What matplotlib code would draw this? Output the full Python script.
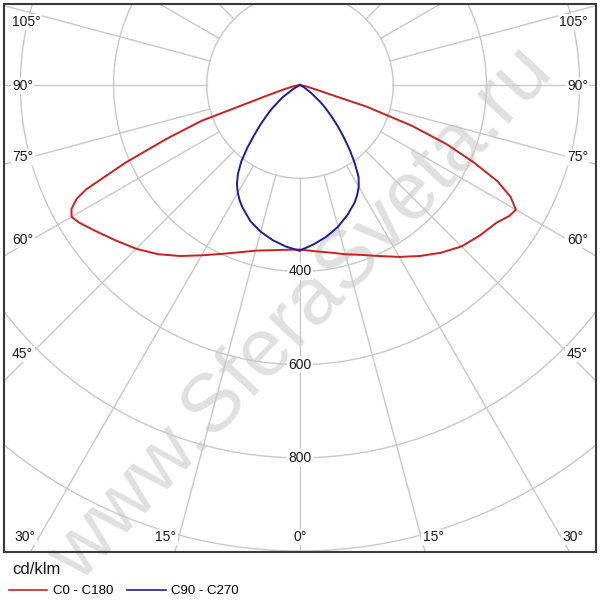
import numpy as np
import matplotlib
matplotlib.use("Agg")
import matplotlib.pyplot as plt
from matplotlib.lines import Line2D

plt.rcParams['font.family'] = ['Liberation Sans', 'DejaVu Sans']

# luminous intensity, cd/klm, vs gamma angle (deg from downward)
gamma_c0 = [0, 5, 10, 15, 20, 25, 30, 35, 40, 45, 50, 55, 58, 60, 62, 64, 66, 68, 70, 72, 72.5, 74, 77, 90]
i_c0 = [353, 358, 365, 376, 388, 405, 426, 448, 470, 490, 503, 515, 530, 535, 512, 472, 408, 340, 255, 150, 80, 40, 15, 0]

gamma_c180 = [0, 5, 10, 15, 20, 25, 30, 35, 40, 45, 50, 55, 58, 60, 61.5, 63, 64, 66, 68, 70, 71, 72, 75, 80, 90]
i_c180 = [353, 355, 360, 368, 382, 400, 422, 448, 474, 497, 518, 542, 558, 566, 558, 538, 510, 410, 310, 225, 115, 80, 35, 12, 0]

gamma_c90 = [0, 5, 10, 15, 20, 25, 27.5, 30, 32.5, 35, 37.5, 40, 42.5, 45, 47.5, 50, 55, 60, 90]
i_c90 = [355, 343, 330, 315, 297, 278, 266, 252, 234, 205, 175, 146, 120, 96, 76, 58, 28, 10, 0]

gamma_c270 = [0, 5, 10, 15, 20, 25, 27.5, 30, 32.5, 35, 37.5, 40, 42.5, 45, 47.5, 50, 55, 60, 90]
i_c270 = [356, 348, 338, 326, 311, 291, 280, 267, 252, 232, 207, 176, 145, 120, 97, 78, 45, 15, 0]

rings = [200, 400, 600, 800, 1000]
ring_labels = [400, 600, 800]
spoke_step = 15
side_labels = [105, 90, 75, 60, 45]
bottom_labels = [30, 15, 0, 15, 30]

# layout (pixels on a 600x600 canvas)
px_per_unit = 0.466
cx, cy = 300, 85
box = (4, 4, 596, 552)  # left, top, right, bottom
side_label_y = [22, 86, 157, 240, 354]
bottom_label_x = [25, 166, 300, 433, 573]
bottom_label_y = 537

red = '#cc2020'
blue = '#1c1c9e'
grid_c = '#c9c9c9'
txt_c = '#1a1a1a'


def to_xy(gamma, inten, side):
    g = np.radians(np.asarray(gamma, float))
    r = np.asarray(inten, float)
    return side * r * np.sin(g), -r * np.cos(g)


def curve(g_right, i_right, g_left, i_left):
    xr, yr = to_xy(g_right, i_right, 1)
    xl, yl = to_xy(g_left, i_left, -1)
    return np.r_[xl[::-1], xr], np.r_[yl[::-1], yr]


fig = plt.figure(figsize=(6, 6), dpi=100)
l, t, r, b = box
ax = fig.add_axes([l / 600, 1 - b / 600, (r - l) / 600, (b - t) / 600])
ax.set_facecolor('none')
ax.set_xlim((l - cx) / px_per_unit, (r - cx) / px_per_unit)
ax.set_ylim((cy - b) / px_per_unit, (cy - t) / px_per_unit)
ax.set_xticks([])
ax.set_yticks([])
for s in ax.spines.values():
    s.set_color('#3a3a3a')
    s.set_linewidth(1.5)

th = np.linspace(0, 2 * np.pi, 721)
for rr in rings:
    ax.plot(rr * np.cos(th), rr * np.sin(th), color=grid_c, lw=1.0, zorder=1)
for a in range(0, 360, spoke_step):
    ar = np.radians(a)
    ax.plot([rings[0] * np.sin(ar), 1400 * np.sin(ar)],
            [-rings[0] * np.cos(ar), -1400 * np.cos(ar)],
            color=grid_c, lw=1.0, zorder=1)

x, y = curve(gamma_c0, i_c0, gamma_c180, i_c180)
ax.plot(x, y, color=red, lw=1.4, zorder=4, solid_joinstyle='round')
x, y = curve(gamma_c90, i_c90, gamma_c270, i_c270)
ax.plot(x, y, color=blue, lw=1.4, zorder=4, solid_joinstyle='round')

wbox = dict(facecolor='white', edgecolor='none', pad=1.0)
for v in ring_labels:
    ax.text(0, -v, str(v), ha='center', va='center', fontsize=10,
            color=txt_c, bbox=wbox, zorder=3)

for lab, py in zip(side_labels, side_label_y):
    fig.text(12 / 600, 1 - py / 600, f'{lab}°', ha='left', va='center',
             fontsize=10, color=txt_c, bbox=wbox, zorder=5)
    fig.text(588 / 600, 1 - py / 600, f'{lab}°', ha='right', va='center',
             fontsize=10, color=txt_c, bbox=wbox, zorder=5)
for lab, px in zip(bottom_labels, bottom_label_x):
    fig.text(px / 600, 1 - bottom_label_y / 600, f'{lab}°', ha='center', va='center',
             fontsize=10, color=txt_c, bbox=wbox, zorder=5)

fig.text(12 / 600, 1 - 569 / 600, 'cd/klm', ha='left', va='center', fontsize=12, color=txt_c)
handles = [Line2D([], [], color=red, lw=1.2), Line2D([], [], color=blue, lw=1.2)]
fig.legend(handles, ['C0 - C180', 'C90 - C270'], loc='center left',
           bbox_to_anchor=(9 / 600, 1 - 591 / 600), ncol=2, frameon=False,
           fontsize=9.5, handlelength=2.9, handletextpad=0.4, columnspacing=1.1,
           borderpad=0, borderaxespad=0)

fig.text(302 / 600, 1 - 315 / 600, 'www.SferaSveta.ru', rotation=47,
         rotation_mode='anchor', ha='center', va='center', fontsize=59,
         color='#e0e0e0', zorder=-1)

fig.savefig('out.png', dpi=100)
